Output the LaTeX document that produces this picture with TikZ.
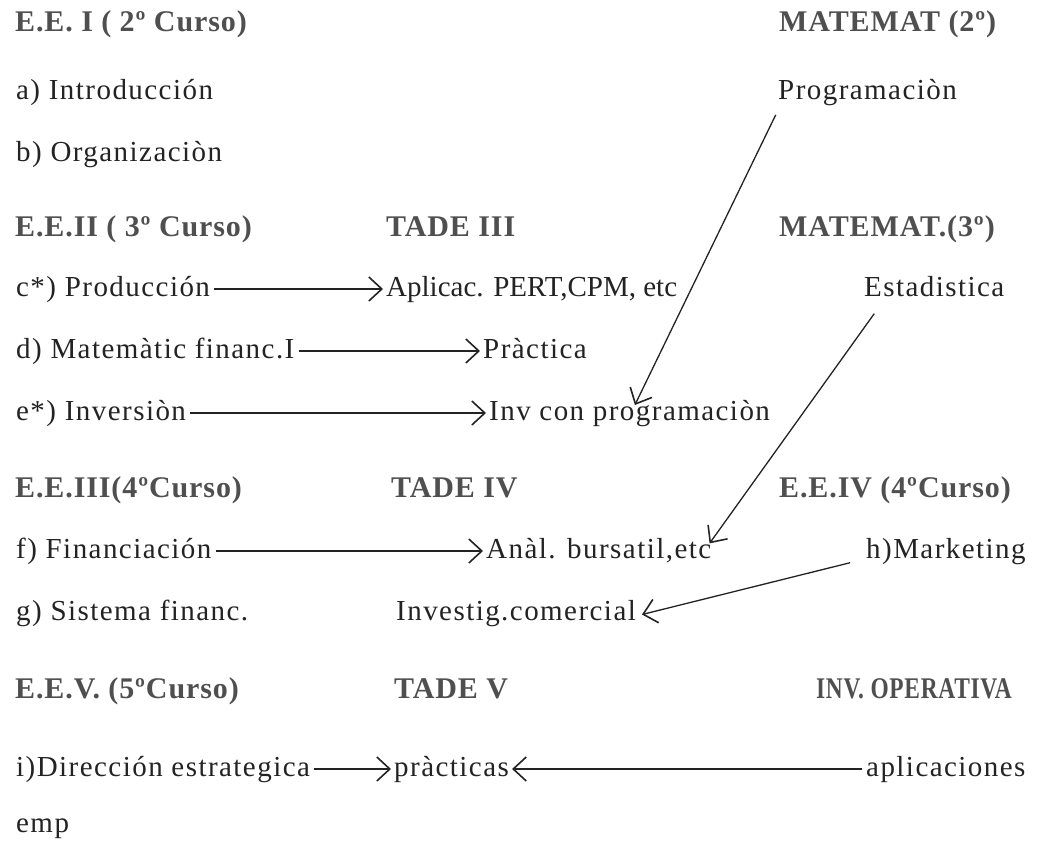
\documentclass[tikz,border=0pt]{standalone}
\usepackage{fontspec}
\usepackage{graphicx}
\usetikzlibrary{arrows.meta,calc}
\newfontfamily\bodyfam[LetterSpace=5]{Liberation Serif}
\newfontfamily\tightfam{Liberation Serif}
\newfontfamily\headfam[LetterSpace=3]{Liberation Serif}
\newcommand\bodyfnt{\fontsize{29}{33}\selectfont\bodyfam}
\newcommand\headfnt{\fontsize{30}{34}\selectfont\headfam\bfseries}
\definecolor{ink}{RGB}{35,35,35}
\tikzset{
  body/.style={anchor=base west, inner sep=1pt, font=\bodyfnt, text=ink, text height=20pt, text depth=6pt},
  head/.style={anchor=base west, inner sep=1pt, font=\headfnt, text=ink!80},
  arr/.style={-{Straight Barb[length=13pt,width=24pt,line width=1.6pt]}, line width=1.3pt, draw=ink, shorten <=3pt, shorten >=2pt},
}
\begin{document}
\begin{tikzpicture}[x=1pt,y=-1pt]
\useasboundingbox[fill=white] (0,0) rectangle (1047,856);
% 2o curso
\node[head] (h1) at (14,32) {E.E. I ( 2º Curso)};
\node[head] (m2) at (778,32) {MATEMAT (2º)};
\node[body] (a) at (15,100) {a) Introducción};
\node[body] (prog) at (777,100) {Programaciòn};
\node[body] (b) at (15,162) {b) Organizaciòn};
% 3o curso
\node[head] (h2) at (14,236) {E.E.II ( 3º Curso)};
\node[head] (t3) at (385,236) {TADE III};
\node[head] (m3) at (778,236) {MATEMAT.(3º)};
\node[body] (c) at (15,296) {c*) Producción};
\node[body, font={\fontsize{29}{33}\selectfont\tightfam}] (apl) at (385,296) {Aplicac. PERT,CPM, etc};
\node[body] (est) at (863,296) {Estadistica};
\node[body] (d) at (15,358) {d) Matemàtic financ.I};
\node[body] (pra) at (482,358) {Pràctica};
\node[body] (e) at (15,420) {e*) Inversiòn};
\node[body] (inv) at (488,420) {Inv con programaciòn};
% 4o curso
\node[head] (h3) at (14,497) {E.E.III(4ºCurso)};
\node[head] (t4) at (390,497) {TADE IV};
\node[head] (h4) at (778,497) {E.E.IV (4ºCurso)};
\node[body] (f) at (15,558) {f) Financiación};
\node[body] (ana) at (485,558) {Anàl. bursatil,etc};
\node[body] (mkt) at (865,558) {h)Marketing};
\node[body] (g) at (15,620) {g) Sistema financ.};
\node[body] (ic) at (395,620) {Investig.comercial};
% 5o curso
\node[head] (h5) at (14,698) {E.E.V. (5ºCurso)};
\node[head] (t5) at (393,698) {TADE V};
\node[head] (io) at (815,698) {\scalebox{0.78}[1]{INV. OPERATIVA}};
\node[body] (i) at (15,776) {i)Dirección estrategica};
\node[body] (prc) at (393,776) {pràcticas};
\node[body] (apc) at (865,776) {aplicaciones};
\node[body] (emp) at (15,832) {emp};
% connectors
\draw[arr] (c.east) -- (apl.west);
\draw[arr] (d.east) -- (pra.west);
\draw[arr] (e.east) -- (inv.west);
\draw[arr] (f.east) -- (ana.west);
\draw[arr] ($(prog.south west)+(0,5)$) -- ($(inv.north west)+(146,8)$);
\draw[arr] ($(est.south west)+(13,8)$) -- ($(ana.east)+(-4,-6)$);
\draw[arr] ($(mkt.west)+(-12,11)$) -- ($(ic.east)+(3,2)$);
\draw[arr] (apc.west) -- (prc.east);
\draw[arr] (i.east) -- (prc.west);
\end{tikzpicture}
\end{document}
